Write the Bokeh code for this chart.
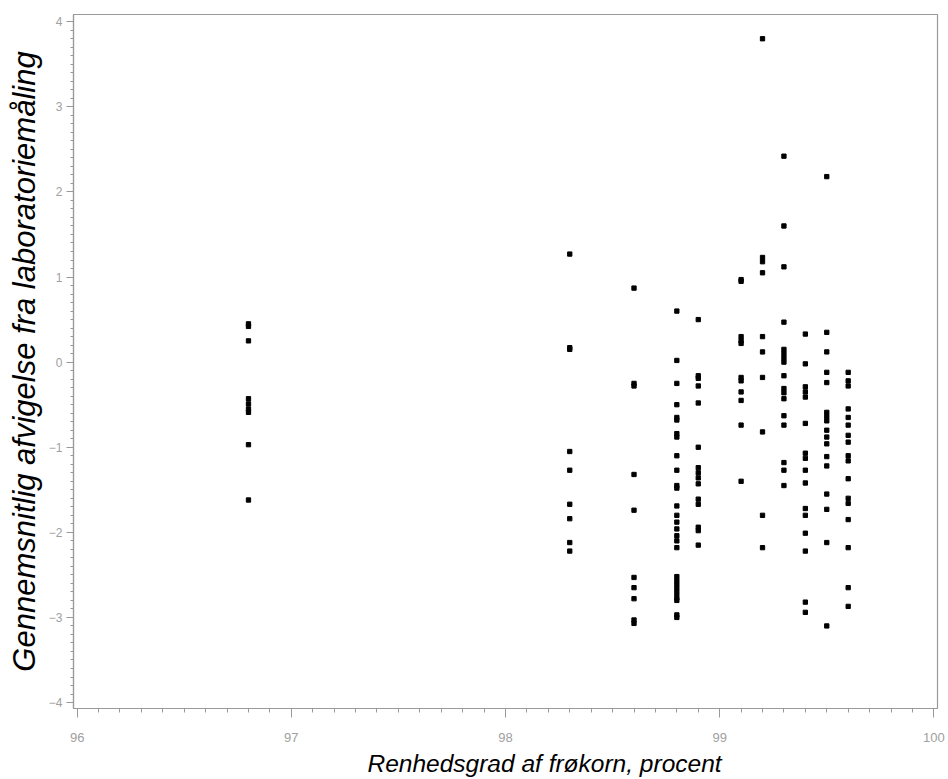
from bokeh.plotting import figure
from bokeh.models import Range1d, ColumnDataSource, SingleIntervalTicker, Title
from bokeh.embed import file_html
from bokeh.resources import INLINE

# Purity levels (x) and mean deviations (y)
purity_levels = [96.8, 98.3, 98.6, 98.8, 98.9, 99.1, 99.2, 99.3, 99.4, 99.5, 99.6]

dev_968 = [0.45, 0.42, 0.25, -0.43, -0.49, -0.55, -0.59, -0.97, -1.62]
dev_983 = [1.27, 0.17, 0.15, -1.05, -1.27, -1.67, -1.84, -2.12, -2.22]
dev_986 = [0.87, -0.25, -0.28, -1.32, -1.74, -2.53, -2.65, -2.78, -3.03, -3.07]
dev_988 = [0.60, 0.02, -0.25, -0.50, -0.65, -0.68, -0.84, -0.88, -1.10, -1.27,
           -1.45, -1.48, -1.69, -1.80, -1.88, -1.96, -2.04, -2.10, -2.18,
           -2.52, -2.57, -2.62, -2.67, -2.72, -2.77, -2.80, -2.97, -3.00]
dev_989 = [0.50, -0.16, -0.19, -0.28, -0.48, -1.00, -1.24, -1.30, -1.36, -1.43,
           -1.61, -1.67, -1.94, -1.98, -2.15]
dev_991 = [0.97, 0.95, 0.30, 0.25, 0.22, -0.18, -0.22, -0.35, -0.45, -0.74, -1.40]
dev_992 = [3.80, 1.23, 1.18, 1.05, 0.30, 0.12, -0.18, -0.82, -1.80, -2.18]
dev_993 = [2.42, 1.60, 1.12, 0.47, 0.15, 0.10, 0.05, 0.00, -0.16, -0.31, -0.36,
           -0.43, -0.63, -0.74, -1.18, -1.27, -1.45]
dev_994 = [0.33, -0.02, -0.29, -0.35, -0.41, -0.72, -1.07, -1.13, -1.27, -1.42,
           -1.72, -1.80, -2.01, -2.22, -2.82, -2.94]
dev_995 = [2.18, 0.35, 0.12, -0.12, -0.24, -0.59, -0.64, -0.69, -0.80, -0.88,
           -0.96, -1.11, -1.22, -1.55, -1.73, -2.12, -3.10]
dev_996 = [-0.12, -0.22, -0.28, -0.55, -0.65, -0.74, -0.86, -0.94, -1.10, -1.16,
           -1.37, -1.60, -1.66, -1.85, -2.18, -2.65, -2.87]

groups = [dev_968, dev_983, dev_986, dev_988, dev_989, dev_991, dev_992,
          dev_993, dev_994, dev_995, dev_996]

x_label = "Renhedsgrad af frøkorn, procent"
y_label = "Gennemsnitlig afvigelse fra laboratoriemåling"

xs, ys = [], []
for lvl, devs in zip(purity_levels, groups):
    for d in devs:
        xs.append(lvl)
        ys.append(d)

source = ColumnDataSource(dict(x=xs, y=ys))

p = figure(width=948, height=779, output_backend="svg", toolbar_location=None,
           x_range=Range1d(95.983, 100.017), y_range=Range1d(-4.07, 4.085),
           min_border_left=73, min_border_right=11, min_border_top=14,
           min_border_bottom=71)

p.scatter("x", "y", source=source, marker="square", size=4.3,
          fill_color="black", line_color="black")

p.xgrid.visible = False
p.ygrid.visible = False
p.outline_line_color = "#9a9a9a"
p.outline_line_width = 1.2

for ax in (p.xaxis[0], p.yaxis[0]):
    ax.ticker = SingleIntervalTicker(interval=1, num_minor_ticks=10)
    ax.axis_line_color = "#9a9a9a"
    ax.axis_line_width = 1.2
    ax.major_tick_line_color = "#9a9a9a"
    ax.minor_tick_line_color = "#9a9a9a"
    ax.major_tick_in = 0
    ax.minor_tick_in = 0
    ax.major_label_text_font = "Liberation Sans"
    ax.major_label_text_color = "#a0a0a0"
    ax.axis_label_text_font = "Liberation Sans"
    ax.axis_label_text_font_style = "italic"
    ax.axis_label_text_color = "black"

p.xaxis.major_label_text_font_size = "13px"
p.xaxis.major_tick_out = 9
p.xaxis.minor_tick_out = 4
p.xaxis.major_label_standoff = 15

xt = Title(text=x_label, align="left", offset=294, standoff=6,
           text_font="Liberation Sans", text_font_style="italic",
           text_font_size="24.5px", text_color="black")
p.add_layout(xt, "below")

p.yaxis.major_label_text_font_size = "12px"
p.yaxis.axis_label = y_label
p.yaxis.axis_label_text_font_size = "31px"
p.yaxis.major_tick_out = 7
p.yaxis.minor_tick_out = 3
p.yaxis.major_label_standoff = 4
p.yaxis.axis_label_standoff = 4
p.yaxis.major_label_orientation = "horizontal"

open("out.html", "w").write(file_html(p, INLINE))
